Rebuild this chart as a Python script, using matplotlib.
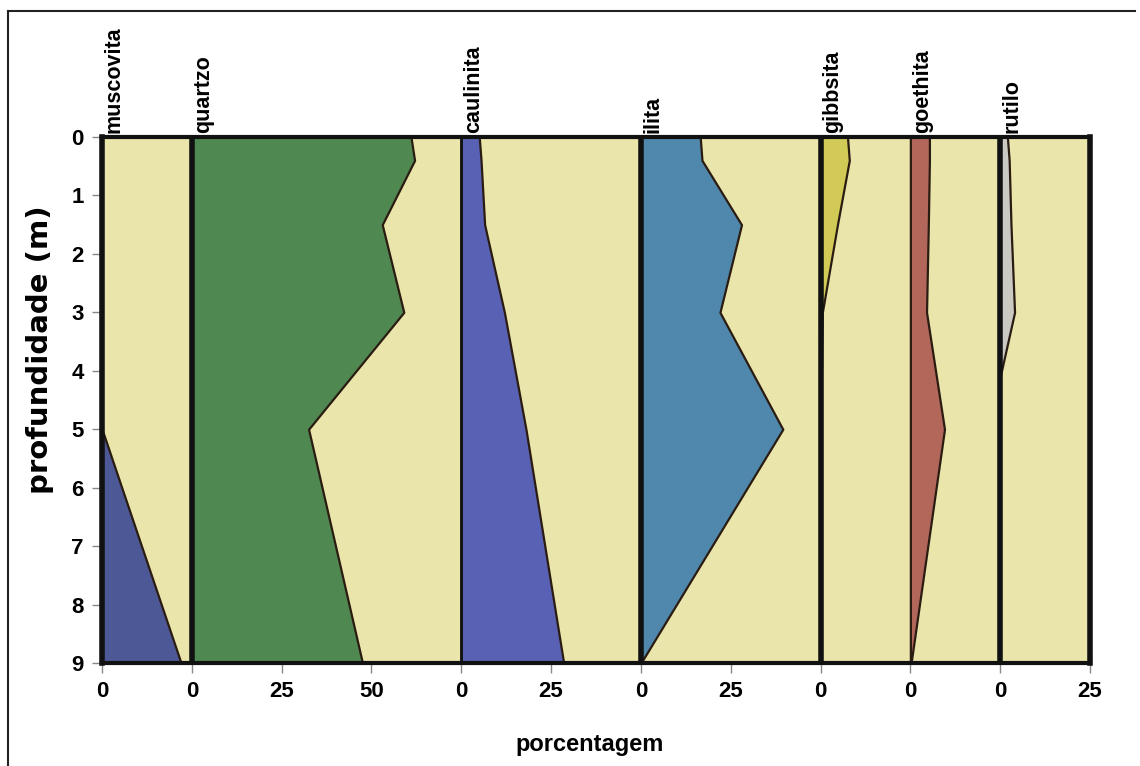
import numpy as np
import matplotlib
matplotlib.use("Agg")
import matplotlib.pyplot as plt
from matplotlib.lines import Line2D

plt.rcParams["font.family"] = ["Liberation Sans", "DejaVu Sans"]
plt.rcParams["font.weight"] = "bold"

# mineral columns, left to right, and the % range each column spans
minerals = ["muscovita", "quartzo", "caulinita", "ilita", "gibbsita", "goethita", "rutilo"]
widths = [25, 75, 50, 50, 25, 25, 25]
colors = ["#4d5896", "#4f8850", "#5961b4", "#4f87ad", "#d2ca56", "#b3675b", "#cbcac2"]

# depth (m) of the samples, and % of each mineral
depth = [0, 0.4, 1.5, 3, 5, 9]
muscovita = [0, 0, 0, 0, 0, 22]
quartzo = [61, 62, 53, 59, 32.5, 47.5]
caulinita = [5, 5.5, 6.5, 12, 18, 28.5]
ilita = [16.5, 17, 28, 22, 39.5, 0]
gibbsita = [7.5, 8, 4.7, 0.5, 0, 0]
goethita = [5.3, 5.3, 5.0, 4.5, 9.5, 0.2]
depth_rutilo = [0, 0.4, 1.5, 3, 4.1, 9]
rutilo = [2, 2.5, 3, 4, 0, 0]

series = [muscovita, quartzo, caulinita, ilita, gibbsita, goethita, rutilo]
depths = [depth] * 6 + [depth_rutilo]

W, H = 1140, 766
fig = plt.figure(figsize=(W / 100, H / 100), dpi=100)
ax = fig.add_axes([102 / W, 1 - 663 / H, (1090 - 102) / W, (663 - 137) / H])
ax.set_facecolor("#e9e5ab")

offsets = np.concatenate([[0], np.cumsum(widths)[:-1]])
total = sum(widths)

for name, off, vals, d, c in zip(minerals, offsets, series, depths, colors):
    vals = np.asarray(vals, float)
    ax.fill_betweenx(d, off, off + vals, facecolor=c, edgecolor="#2b1c12", lw=1.6, zorder=2)
    ax.annotate(name, (off, 0), xytext=(1, 3), textcoords="offset points",
                rotation=90, ha="left", va="bottom", fontsize=15.5, annotation_clip=False)

# column separators
sep_lw = {"quartzo": 4, "caulinita": 2, "ilita": 4, "gibbsita": 4, "rutilo": 4}
for name, off in zip(minerals, offsets):
    if name in sep_lw:
        ax.axvline(off, color="#111111", lw=sep_lw[name], zorder=3)

ax.set_xlim(0, total)
ax.set_ylim(9, 0)

xt, xl = [], []
for off, w in zip(offsets, widths):
    for k in range(0, w, 25):
        xt.append(off + k)
        xl.append(str(k))
xt.append(total)
xl.append(str(widths[-1]))
ax.set_xticks(xt)
ax.set_xticklabels(xl)
ax.set_yticks(range(10))
ax.tick_params(direction="out", length=7, width=1, color="#888888",
               labelsize=16, pad=6)

for side, lw in [("left", 4), ("right", 4), ("top", 3), ("bottom", 3)]:
    ax.spines[side].set_linewidth(lw)
    ax.spines[side].set_color("#111111")
    ax.spines[side].set_zorder(4)

fig.text(40 / W, 1 - 350 / H, "profundidade (m)", rotation=90, ha="center", va="center",
         fontsize=21, family=["DejaVu Sans"])
fig.text(590 / W, 1 - 745 / H, "porcentagem", ha="center", va="center", fontsize=17)

# frame of the original figure
fig.add_artist(Line2D([8 / W, 8 / W], [0, 1 - 11 / H], color="#222222", lw=1.5))
fig.add_artist(Line2D([8 / W, 1135 / W], [1 - 11 / H, 1 - 11 / H], color="#222222", lw=1.5))

fig.savefig("out.png", dpi=100)
